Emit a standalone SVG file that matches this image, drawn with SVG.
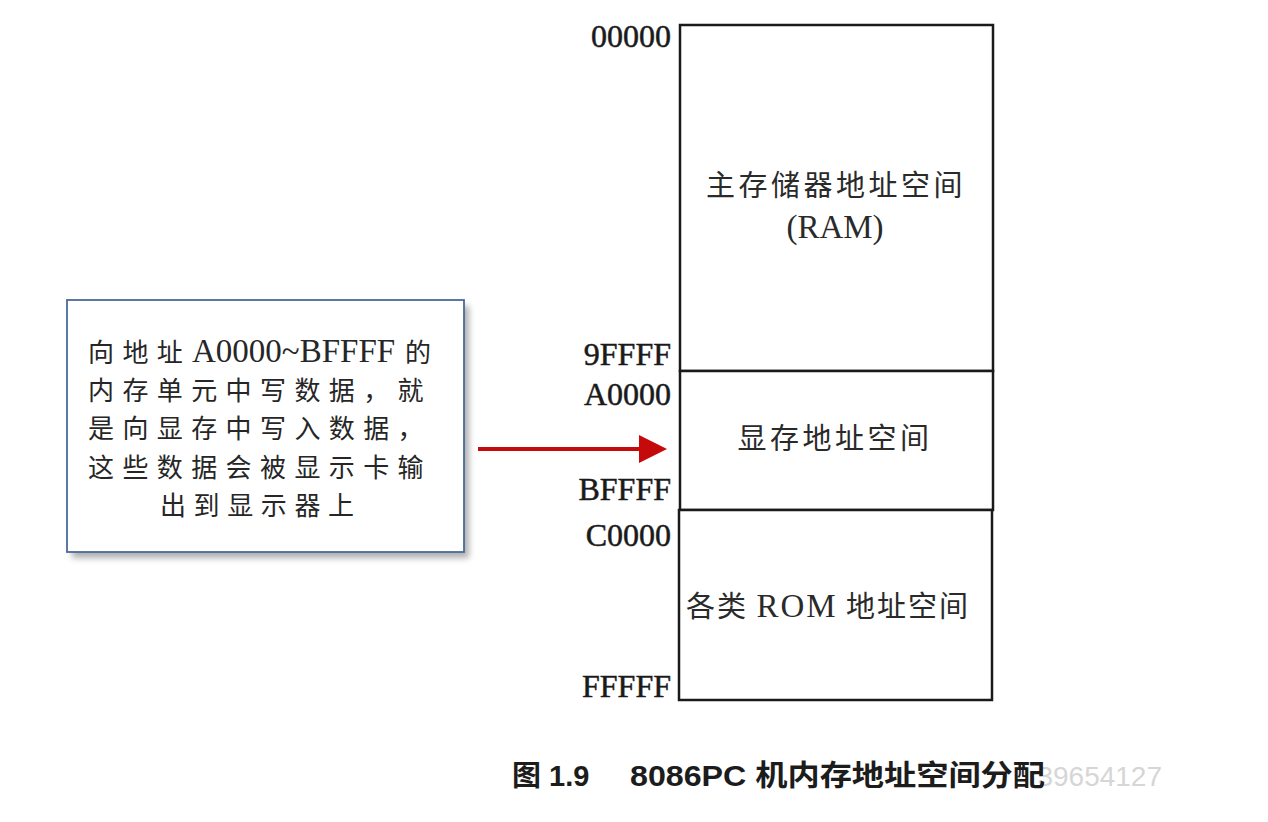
<svg xmlns="http://www.w3.org/2000/svg" width="1268" height="822" viewBox="0 0 1268 822">
  <defs>
    <style>
      .addr { font-family: "Liberation Serif", "Times New Roman", serif; font-size: 32px; fill: #1a1a1a; stroke: #1a1a1a; stroke-width: 0.5; text-anchor: end; }
      .region { font-family: "Noto Sans CJK SC", "Liberation Serif", sans-serif; font-size: 29px; fill: #2a2a2a; text-anchor: middle; letter-spacing: 3.5px; }
      .latin { font-family: "Liberation Serif", "Times New Roman", serif; }
      .note { font-family: "Noto Sans CJK SC", sans-serif; font-size: 26px; fill: #262626; }
      .caption { font-family: "Liberation Sans", "Noto Sans CJK SC", sans-serif; font-size: 29px; font-weight: bold; fill: #1c1c1c; }
      .mark { font-family: "Liberation Sans", sans-serif; font-size: 28px; fill: #d6d6d6; }
      .frame { fill: #ffffff; stroke: #1a1a1a; stroke-width: 2.5; }
    </style>
    <filter id="softShadow" x="-10%" y="-10%" width="130%" height="140%">
      <feGaussianBlur stdDeviation="3"/>
    </filter>
    <marker id="redHead" markerWidth="7" markerHeight="7" refX="6" refY="3.5" orient="auto" markerUnits="strokeWidth">
      <path d="M0,0 L7,3.5 L0,7 Z" fill="#c40a0a"/>
    </marker>
  </defs>

  <rect width="1268" height="822" fill="#ffffff"/>

  <!-- memory map: address column + three regions -->
  <g id="memory-map">
    <g id="ram">
      <rect class="frame" x="680" y="25" width="313" height="346"/>
      <text class="region" x="836" y="196">主存储器地址空间</text>
      <text class="region latin" x="835" y="238" style="letter-spacing:0;font-size:33px">(RAM)</text>
    </g>
    <g id="vram">
      <rect class="frame" x="680" y="371" width="313" height="139"/>
      <text class="region" x="835" y="449">显存地址空间</text>
    </g>
    <g id="rom">
      <rect class="frame" x="679" y="510" width="313" height="190"/>
      <text class="region" x="828" y="617" style="letter-spacing:2px">各类 <tspan class="latin" font-size="33">ROM</tspan> 地址空间</text>
    </g>
    <g id="addresses">
      <text class="addr" x="671" y="47">00000</text>
      <text class="addr" x="671" y="365">9FFFF</text>
      <text class="addr" x="671" y="405">A0000</text>
      <text class="addr" x="671" y="500">BFFFF</text>
      <text class="addr" x="671" y="546">C0000</text>
      <text class="addr" x="671" y="697">FFFFF</text>
    </g>
  </g>

  <!-- callout note -->
  <g id="note">
    <rect x="72" y="306" width="397" height="252" fill="#7a7a7a" opacity="0.6" filter="url(#softShadow)"/>
    <rect x="67" y="300" width="397" height="252" fill="#ffffff" stroke="#4a6a9c" stroke-width="1.8"/>
    <text class="note" x="88" y="362" letter-spacing="8.4">向地址<tspan class="latin" x="192" font-size="33" letter-spacing="0">A0000~BFFFF</tspan><tspan x="405">的</tspan></text>
    <text class="note" x="88" y="400" letter-spacing="8.4">内存单元中写数据，就</text>
    <text class="note" x="88" y="438" letter-spacing="8.4">是向显存中写入数据，</text>
    <text class="note" x="88" y="477" letter-spacing="8.4">这些数据会被显示卡输</text>
    <text class="note" x="160" y="515" letter-spacing="7.6">出到显示器上</text>
  </g>

  <!-- connectors -->
  <g id="connectors">
    <line x1="480" y1="455" x2="664" y2="455" stroke="#8a8a8a" stroke-width="5" opacity="0.6" filter="url(#softShadow)"/>
    <line x1="478" y1="449" x2="663" y2="449" stroke="#c40a0a" stroke-width="4" marker-end="url(#redHead)"/>
  </g>

  <!-- caption -->
  <g id="caption">
    <text class="mark" x="1162" y="786" text-anchor="end">39654127</text>
    <text class="caption" x="512" y="786">图 1.9</text>
    <text class="caption" x="630" y="786" textLength="415" lengthAdjust="spacingAndGlyphs">8086PC 机内存地址空间分配</text>
  </g>
</svg>
